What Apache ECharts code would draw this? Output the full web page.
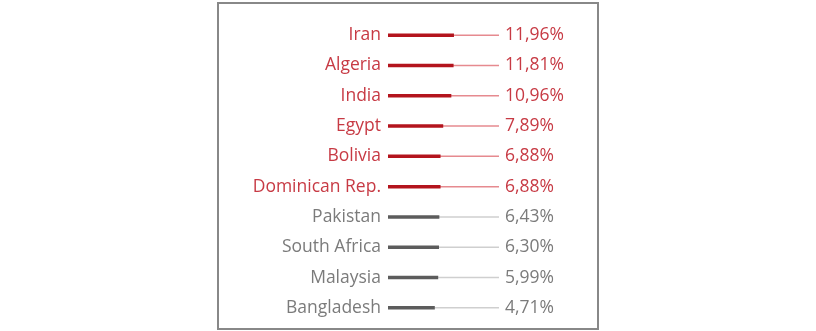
<!DOCTYPE html>
<html>
<head>
<meta charset="utf-8">
<script src="https://cdn.jsdelivr.net/npm/echarts@6/dist/echarts.min.js"></script>
<style>
  html, body { margin: 0; padding: 0; background: #fff; }
  #chart { width: 816px; height: 331px; position: absolute; left: 0; top: 0; }
  #frame { position: absolute; left: 217px; top: 2px; width: 378px; height: 324px; border: 2px solid #888; pointer-events: none; }
</style>
</head>
<body>
<div id="chart"></div>
<div id="frame"></div>
<script>
const categories = ['Iran', 'Algeria', 'India', 'Egypt', 'Bolivia', 'Dominican Rep.', 'Pakistan', 'South Africa', 'Malaysia', 'Bangladesh'];
const values = [11.96, 11.81, 10.96, 7.89, 6.88, 6.88, 6.43, 6.30, 5.99, 4.71];
const valueLabels = ['11,96%', '11,81%', '10,96%', '7,89%', '6,88%', '6,88%', '6,43%', '6,30%', '5,99%', '4,71%'];
const highlighted = [true, true, true, true, true, true, false, false, false, false];

const RED_BAR = '#b3141d', RED_TRACK = '#e68a8f', RED_TEXT = '#c73a44';
const GRAY_BAR = '#5c5c5c', GRAY_TRACK = '#cfcfcf', GRAY_TEXT = '#7b7b7b';
const FONT = 'Open Sans';
const FS = 17.5;

// [value, categoryIndex] pairs for the rows of one colour group only
const pick = (flag) => values.map((v, i) => [v, i]).filter((p) => highlighted[p[1]] === flag);

const chart = echarts.init(document.getElementById('chart'), null, { renderer: 'canvas' });
chart.setOption({
  animation: false,
  grid: { left: 388, right: 317, top: 20, bottom: 8, containLabel: false },
  xAxis: {
    type: 'value', min: -13, max: 29, startValue: -13,
    show: false
  },
  yAxis: [{
    type: 'category', data: categories, inverse: true,
    axisLine: { show: false }, axisTick: { show: false }, splitLine: { show: false },
    axisLabel: {
      margin: 7, fontFamily: FONT, fontSize: FS,
      color: (v, i) => highlighted[i] ? RED_TEXT : GRAY_TEXT
    }
  }, {
    type: 'category', data: categories, inverse: true, position: 'right',
    axisLine: { show: false }, axisTick: { show: false }, splitLine: { show: false },
    axisLabel: {
      margin: 6, fontFamily: FONT, fontSize: FS,
      formatter: (v, i) => valueLabels[i],
      color: (v, i) => highlighted[i] ? RED_TEXT : GRAY_TEXT
    }
  }],
  series: [{
    type: 'bar', yAxisIndex: 1, barWidth: 1.5, barGap: '-100%', z: 1,
    encode: { x: 0, y: 1 },
    showBackground: true,
    itemStyle: { color: RED_TRACK },
    backgroundStyle: { color: RED_TRACK },
    data: pick(true)
  }, {
    type: 'bar', yAxisIndex: 1, barWidth: 1.5, barGap: '-100%', z: 1,
    encode: { x: 0, y: 1 },
    showBackground: true,
    itemStyle: { color: GRAY_TRACK },
    backgroundStyle: { color: GRAY_TRACK },
    data: pick(false)
  }, {
    type: 'bar', yAxisIndex: 0, barWidth: 3.5, z: 2,
    data: values.map((v, i) => ({
      value: v,
      itemStyle: { color: highlighted[i] ? RED_BAR : GRAY_BAR }
    }))
  }]
});
</script>
</body>
</html>
